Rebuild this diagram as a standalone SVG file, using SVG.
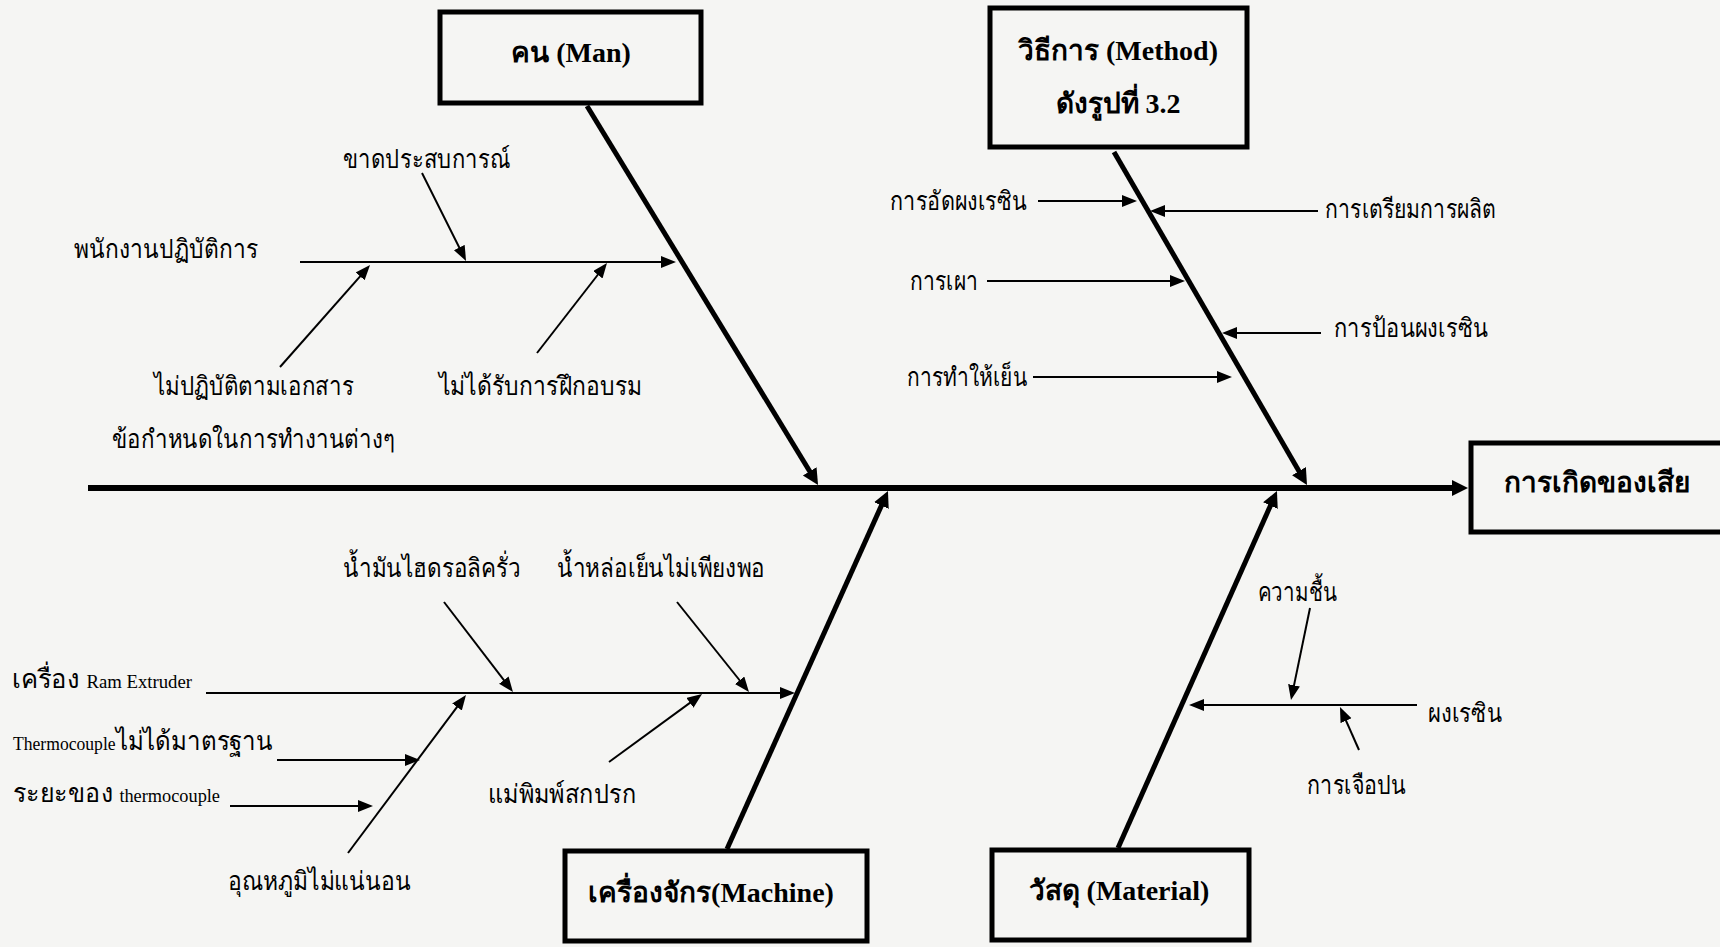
<svg xmlns="http://www.w3.org/2000/svg" width="1720" height="947" viewBox="0 0 1720 947">
<style>
.bg{fill:#f5f5f3}
.box{fill:none;stroke:#000;stroke-width:5}
.bone{stroke:#000;stroke-width:5;fill:none;marker-end:url(#ah)}
.thin{stroke:#000;stroke-width:2;fill:none;marker-end:url(#at)}
.t{font-family:'Liberation Serif','Noto Sans','DejaVu Sans',serif;font-size:26px;fill:#000}
.tb{font-family:'Liberation Serif','Noto Sans','DejaVu Sans',serif;font-size:28px;font-weight:bold;fill:#000;text-anchor:middle}
.sm{font-size:19px}
</style>
<defs>
<marker id="ah" markerUnits="userSpaceOnUse" markerWidth="18" markerHeight="18" refX="9" refY="8" orient="auto" viewBox="0 0 18 18">
<path d="M0,0 L16,8 L0,16 z" fill="#000"/>
</marker>
<marker id="at" markerUnits="userSpaceOnUse" markerWidth="16" markerHeight="14" refX="8" refY="6" orient="auto" viewBox="0 0 16 14">
<path d="M0,0 L15,6 L0,12 z" fill="#000"/>
</marker>
</defs>
<rect class="bg" x="0" y="0" width="1720" height="947"/>

<g id="connectors">
<line class="bone" x1="88" y1="488" x2="1461" y2="488" style="stroke-width:6"/>
<line class="bone" x1="587" y1="106" x2="814.4" y2="479"/>
<line class="bone" x1="1114" y1="152" x2="1303.5" y2="478.9"/>
<line class="bone" x1="727" y1="849" x2="885.1" y2="497.4"/>
<line class="bone" x1="1118" y1="848" x2="1274.1" y2="497.4"/>
<line class="thin" x1="300" y1="262" x2="669" y2="262"/>
<line class="thin" x1="422" y1="173" x2="462.9" y2="254.7"/>
<line class="thin" x1="280" y1="367" x2="365.4" y2="270.3"/>
<line class="thin" x1="537" y1="353" x2="602.7" y2="268.5"/>
<line class="thin" x1="1038" y1="201" x2="1130" y2="201"/>
<line class="thin" x1="1318" y1="211" x2="1157" y2="211"/>
<line class="thin" x1="987" y1="281" x2="1178" y2="281"/>
<line class="thin" x1="1321" y1="333" x2="1229" y2="333"/>
<line class="thin" x1="1033" y1="377" x2="1225" y2="377"/>
<line class="thin" x1="206" y1="693" x2="788" y2="693"/>
<line class="thin" x1="444" y1="602" x2="508.7" y2="686.4"/>
<line class="thin" x1="677" y1="602" x2="744.6" y2="686.5"/>
<line class="thin" x1="277" y1="760" x2="413" y2="760"/>
<line class="thin" x1="230" y1="806" x2="366" y2="806"/>
<line class="thin" x1="348" y1="853" x2="461.8" y2="700.6"/>
<line class="thin" x1="609" y1="762" x2="696.4" y2="698.1"/>
<line class="thin" x1="1417" y1="705" x2="1196" y2="705"/>
<line class="thin" x1="1310" y1="608" x2="1292.4" y2="693.1"/>
<line class="thin" x1="1359" y1="750" x2="1342.8" y2="713.4"/>
</g>

<g id="man">
<rect class="box" x="440" y="12" width="261" height="91"/>
<text class="tb" x="571" y="62">คน (Man)</text>
</g>
<g id="method">
<rect class="box" x="990" y="8" width="257" height="139"/>
<text class="tb" x="1118" y="60">วิธีการ (Method)</text>
<text class="tb" x="1118" y="113">ดังรูปที่ 3.2</text>
</g>
<g id="machine">
<rect class="box" x="565" y="851" width="302" height="90"/>
<text class="tb" x="711" y="902">เครื่องจักร(Machine)</text>
</g>
<g id="material">
<rect class="box" x="992" y="850" width="257" height="90"/>
<text class="tb" x="1119" y="900">วัสดุ (Material)</text>
</g>
<g id="effect">
<rect class="box" x="1471" y="443" width="270" height="89"/>
<text class="tb" x="1597" y="492">การเกิดของเสีย</text>
</g>

<g id="man-causes">
<text class="t" x="343" y="168" textLength="167" lengthAdjust="spacingAndGlyphs">ขาดประสบการณ์</text>
<text class="t" x="74" y="258" textLength="184" lengthAdjust="spacingAndGlyphs">พนักงานปฏิบัติการ</text>
<text class="t" x="154" y="395" textLength="200" lengthAdjust="spacingAndGlyphs">ไม่ปฏิบัติตามเอกสาร</text>
<text class="t" x="112" y="448" textLength="283" lengthAdjust="spacingAndGlyphs">ข้อกำหนดในการทำงานต่างๆ</text>
<text class="t" x="439" y="395" textLength="203" lengthAdjust="spacingAndGlyphs">ไม่ได้รับการฝึกอบรม</text>
</g>
<g id="method-causes">
<text class="t" x="890" y="210" textLength="137" lengthAdjust="spacingAndGlyphs">การอัดผงเรซิน</text>
<text class="t" x="1325" y="218" textLength="171" lengthAdjust="spacingAndGlyphs">การเตรียมการผลิต</text>
<text class="t" x="910" y="290" textLength="68" lengthAdjust="spacingAndGlyphs">การเผา</text>
<text class="t" x="1334" y="337" textLength="154" lengthAdjust="spacingAndGlyphs">การป้อนผงเรซิน</text>
<text class="t" x="907" y="386" textLength="120" lengthAdjust="spacingAndGlyphs">การทำให้เย็น</text>
</g>
<g id="machine-causes">
<text class="t" x="343" y="577" textLength="178" lengthAdjust="spacingAndGlyphs">น้ำมันไฮดรอลิครั่ว</text>
<text class="t" x="557" y="577" textLength="208" lengthAdjust="spacingAndGlyphs">น้ำหล่อเย็นไม่เพียงพอ</text>
<text class="t" x="12" y="688" textLength="180" lengthAdjust="spacingAndGlyphs">เครื่อง <tspan class="sm">Ram Extruder</tspan></text>
<text class="t" x="13" y="750" textLength="260" lengthAdjust="spacingAndGlyphs"><tspan class="sm">Thermocouple</tspan>ไม่ได้มาตรฐาน</text>
<text class="t" x="13" y="802" textLength="207" lengthAdjust="spacingAndGlyphs">ระยะของ <tspan class="sm">thermocouple</tspan></text>
<text class="t" x="228" y="890" textLength="183" lengthAdjust="spacingAndGlyphs">อุณหภูมิไม่แน่นอน</text>
<text class="t" x="488" y="803" textLength="148" lengthAdjust="spacingAndGlyphs">แม่พิมพ์สกปรก</text>
</g>
<g id="material-causes">
<text class="t" x="1258" y="601" textLength="79" lengthAdjust="spacingAndGlyphs">ความชื้น</text>
<text class="t" x="1428" y="722" textLength="74" lengthAdjust="spacingAndGlyphs">ผงเรซิน</text>
<text class="t" x="1307" y="794" textLength="99" lengthAdjust="spacingAndGlyphs">การเจือปน</text>
</g>
</svg>
